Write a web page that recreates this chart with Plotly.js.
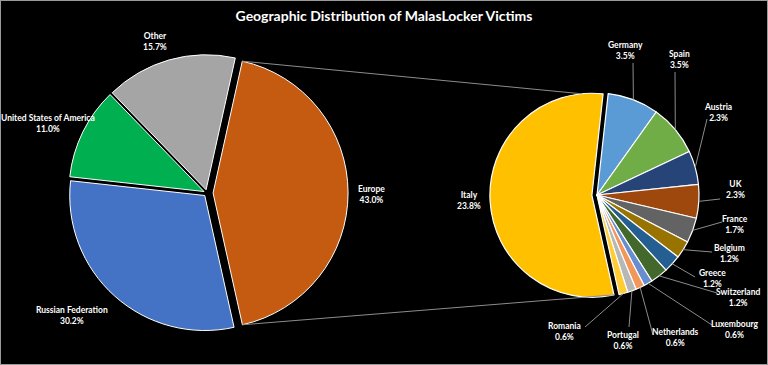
<!DOCTYPE html>
<html><head><meta charset="utf-8">
<script src="https://cdn.plot.ly/plotly-3.0.1.min.js"></script>
<style>html,body{margin:0;padding:0;background:#000}</style>
</head><body><div id="chart" style="width:768px;height:365px"></div>
<script>
// ---- data ----
const mainLabels = ['Europe', 'Russian Federation', 'United States of America', 'Other'];
const mainValues = [43.0, 30.2, 11.0, 15.7];
const europeLabels = ['Italy', 'Germany', 'Spain', 'Austria', 'UK', 'France', 'Belgium', 'Greece', 'Switzerland', 'Luxembourg', 'Netherlands', 'Portugal', 'Romania'];
const europeValues = [23.8, 3.5, 3.5, 2.3, 2.3, 1.7, 1.2, 1.2, 1.2, 0.6, 0.6, 0.6, 0.6];

// ---- styles ----
const mainColors = ['#C55A11', '#4472C4', '#00B050', '#A5A5A5'];
const europeColors = ['#FFC000', '#5B9BD5', '#70AD47', '#264478', '#9E480E', '#636363', '#997300', '#255E91', '#43682B', '#698ED0', '#F1975A', '#B7B7B7', '#FFCD33'];
const W = 768, H = 365;
const FONT = 'Lato, "Open Sans", sans-serif';

// pie geometry (pixels)
const leftPie = {cx: 207, cy: 193, r: 135, rotation: 12.5, pull: [0.045, 0.025, 0.025, 0.025]};
const rightPie = {cx: 597, cy: 195, r: 102, rotation: 167.5, pull: [0.05, 0, 0, 0, 0, 0, 0, 0, 0, 0, 0, 0, 0]};

// label placements (pixel centers), leader line starts for right pie
const leftLabelPos = {'Europe': [371, 194], 'Russian Federation': [72, 315], 'United States of America': [48, 124], 'Other': [155, 42]};
const rightLabelPos = {
  'Italy': [469, 200], 'Germany': [625, 51], 'Spain': [679, 59], 'Austria': [718, 112], 'UK': [735, 189],
  'France': [735, 224], 'Belgium': [729, 253], 'Greece': [712, 278], 'Switzerland': [738, 297],
  'Luxembourg': [735, 329], 'Netherlands': [675, 337], 'Portugal': [623, 340], 'Romania': [564, 331]
};
const leaderStart = {
  'Germany': [633, 63], 'Spain': [675, 72], 'Austria': [707, 119], 'UK': [720, 199], 'France': [722, 222],
  'Belgium': [712, 252], 'Greece': [695, 277], 'Switzerland': [717, 293], 'Luxembourg': [712, 325],
  'Netherlands': [653, 335], 'Portugal': [629, 327], 'Romania': [585, 327]
};

function domainOf(p) {
  const half = p.r * (1 + Math.max(...p.pull));
  return {x: [(p.cx - half) / W, (p.cx + half) / W], y: [1 - (p.cy + half) / H, 1 - (p.cy - half) / H]};
}
function sliceAngles(p, values) {
  const tot = values.reduce((a, b) => a + b, 0);
  let acc = 0;
  return values.map(v => { const s = p.rotation + 360 * acc / tot; acc += v; const e = p.rotation + 360 * acc / tot; return {s, e, m: (s + e) / 2}; });
}
function edgePoint(p, ang, i, angleDeg) {
  const rad = d => d * Math.PI / 180;
  const pm = rad(ang[i].m), a = rad(angleDeg);
  return [p.cx + p.pull[i] * p.r * Math.sin(pm) + p.r * Math.sin(a), p.cy - p.pull[i] * p.r * Math.cos(pm) - p.r * Math.cos(a)];
}
const px = x => x / W, py = y => 1 - y / H;

const pieCommon = {type: 'pie', sort: false, direction: 'clockwise', textinfo: 'none', hoverinfo: 'skip', showlegend: false};
const traces = [
  Object.assign({}, pieCommon, {labels: mainLabels, values: mainValues, rotation: leftPie.rotation, pull: leftPie.pull,
    domain: domainOf(leftPie), marker: {colors: mainColors, line: {color: '#ffffff', width: 1}}}),
  Object.assign({}, pieCommon, {labels: europeLabels, values: europeValues, rotation: rightPie.rotation, pull: rightPie.pull,
    domain: domainOf(rightPie), marker: {colors: europeColors, line: {color: '#ffffff', width: 1.2}}})
];

const la = sliceAngles(leftPie, mainValues);
const ra = sliceAngles(rightPie, europeValues);
const annotations = [];
const shapes = [];
const labFont = {family: FONT, size: 8.5, color: '#ffffff', weight: 700};
function addLabel(x, y, text) {
  annotations.push({x: px(x), y: py(y), xref: 'paper', yref: 'paper', xanchor: 'center', yanchor: 'middle',
    showarrow: false, text: text, font: labFont, align: 'center'});
}
mainLabels.forEach((l, i) => {
  const [x, y] = leftLabelPos[l];
  addLabel(x, y, l + '<br>' + mainValues[i].toFixed(1) + '%');
});
europeLabels.forEach((l, i) => {
  const [x, y] = rightLabelPos[l];
  addLabel(x, y, l + '<br>' + europeValues[i].toFixed(1) + '%');
  if (leaderStart[l]) {
    const [x0, y0] = leaderStart[l];
    const [x1, y1] = edgePoint(rightPie, ra, i, ra[i].m);
    shapes.push({type: 'line', xref: 'paper', yref: 'paper', x0: px(x0), y0: py(y0), x1: px(x1), y1: py(y1), line: {color: '#8c8c8c', width: 1}});
  }
});
// series lines connecting Europe slice to second pie
const eTop = edgePoint(leftPie, la, 0, la[0].s);
const eBot = edgePoint(leftPie, la, 0, la[0].e);
const iTop = edgePoint(rightPie, ra, 0, ra[0].e - 12);
const iBot = edgePoint(rightPie, ra, 0, ra[0].s);
shapes.push({type: 'line', xref: 'paper', yref: 'paper', x0: px(eTop[0]), y0: py(eTop[1]), x1: px(iTop[0]), y1: py(iTop[1]), line: {color: '#8c8c8c', width: 1}});
shapes.push({type: 'line', xref: 'paper', yref: 'paper', x0: px(eBot[0]), y0: py(eBot[1]), x1: px(iBot[0]), y1: py(iBot[1]), line: {color: '#8c8c8c', width: 1}});
// frame
shapes.push({type: 'rect', xref: 'paper', yref: 'paper', x0: 0, y0: 0, x1: 1, y1: 1, line: {color: '#9a9a9a', width: 2}});

const layout = {
  width: W, height: H, margin: {l: 0, r: 0, t: 0, b: 0},
  paper_bgcolor: '#000000', plot_bgcolor: '#000000',
  title: {text: 'Geographic Distribution of MalasLocker Victims', x: 0.5, xanchor: 'center', y: 1 - 16 / H, yanchor: 'middle',
    font: {family: FONT, size: 14, color: '#ffffff', weight: 700}},
  annotations, shapes
};
Plotly.newPlot('chart', traces, layout, {displayModeBar: false, staticPlot: true});
</script></body></html>
